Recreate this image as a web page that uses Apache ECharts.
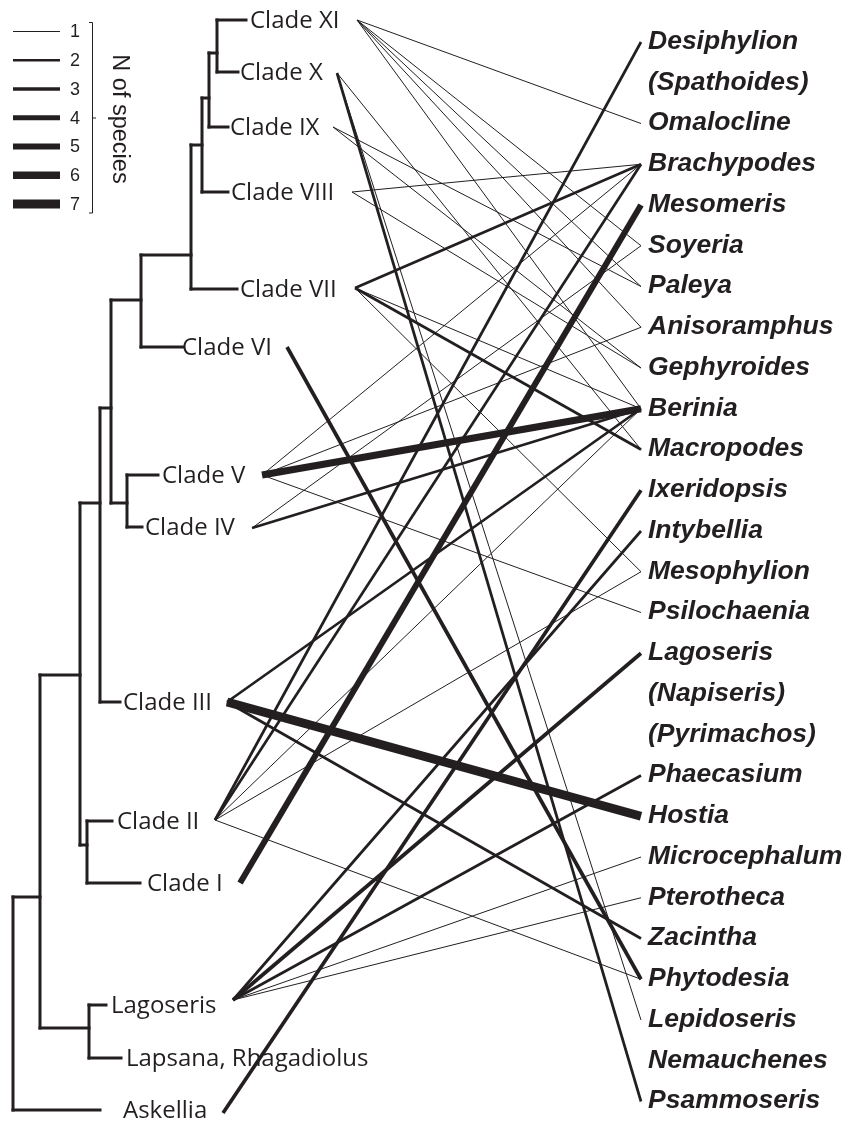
<!DOCTYPE html>
<html><head><meta charset="utf-8">
<script src="https://cdn.jsdelivr.net/npm/echarts@6/dist/echarts.min.js"></script>
<style>html,body{margin:0;padding:0;background:#fff}#c{width:862px;height:1125px}</style>
</head><body><div id="c"></div>
<script>
// ---------------- DATA ----------------
const clades = ['Clade XI','Clade X','Clade IX','Clade VIII','Clade VII','Clade VI','Clade V','Clade IV','Clade III','Clade II','Clade I','Lagoseris','Lapsana, Rhagadiolus','Askellia'];
const genera = ['Desiphylion','(Spathoides)','Omalocline','Brachypodes','Mesomeris','Soyeria','Paleya','Anisoramphus','Gephyroides','Berinia','Macropodes','Ixeridopsis','Intybellia','Mesophylion','Psilochaenia','Lagoseris','(Napiseris)','(Pyrimachos)','Phaecasium','Hostia','Microcephalum','Pterotheca','Zacintha','Phytodesia','Lepidoseris','Nemauchenes','Psammoseris'];
// tree topology (nested pairs)
const treeTopology = [[[[[[[[[['Clade XI','Clade X'],'Clade IX'],'Clade VIII'],'Clade VII'],'Clade VI'],['Clade V','Clade IV']],'Clade III'],['Clade II','Clade I']],['Lagoseris','Lapsana, Rhagadiolus']],'Askellia'];
// links: clade, genus, number of species
const linkClade = ['Clade XI','Clade XI','Clade XI','Clade XI','Clade XI',
  'Clade X','Clade X','Clade X',
  'Clade IX','Clade IX',
  'Clade VIII','Clade VIII',
  'Clade VII','Clade VII','Clade VII','Clade VII',
  'Clade VI',
  'Clade V','Clade V','Clade V','Clade V',
  'Clade IV','Clade IV',
  'Clade III','Clade III','Clade III',
  'Clade II','Clade II','Clade II','Clade II','Clade II',
  'Clade I',
  'Lagoseris','Lagoseris','Lagoseris','Lagoseris','Lagoseris',
  'Askellia'];
const linkGenus = ['Omalocline','Soyeria','Paleya','Anisoramphus','Berinia',
  'Psammoseris','Lepidoseris','Macropodes',
  'Paleya','Gephyroides',
  'Brachypodes','Gephyroides',
  'Brachypodes','Macropodes','Berinia','Mesophylion',
  'Phytodesia',
  'Berinia','Brachypodes','Anisoramphus','Psilochaenia',
  'Berinia','Soyeria',
  'Hostia','Berinia','Zacintha',
  'Desiphylion','Brachypodes','Berinia','Mesophylion','Phytodesia',
  'Mesomeris',
  'Intybellia','Lagoseris','Phaecasium','Microcephalum','Pterotheca',
  'Ixeridopsis'];
const linkSpecies = [1,1,1,1,1,
  2,1,1,
  1,1,
  1,1,
  2,2,1,1,
  3,
  6,1,1,1,
  2,1,
  7,2,2,
  2,2,1,1,1,
  5,
  2,3,2,1,1,
  3];
const legendCounts = [1,2,3,4,5,6,7];
const legendTitle = 'N of species';

// ---------------- LAYOUT / STYLE ----------------
const INK = '#231f20';
const W = 862, H = 1125;
const leafLayout = {
  'Clade XI':  {y:20,  tip:246, label:250, ax:357, ay:20},
  'Clade X':   {y:72,  tip:238, label:240, ax:337, ay:73},
  'Clade IX':  {y:127, tip:228, label:230, ax:333, ay:127},
  'Clade VIII':{y:192, tip:228, label:231, ax:352, ay:192},
  'Clade VII': {y:289, tip:237, label:240, ax:355, ay:288},
  'Clade VI':  {y:347, tip:183, label:182, ax:287, ay:347},
  'Clade V':   {y:475, tip:158, label:162, ax:262, ay:475},
  'Clade IV':  {y:527, tip:142, label:145, ax:252, ay:528},
  'Clade III': {y:702, tip:120, label:123, ax:227, ay:702},
  'Clade II':  {y:821, tip:112, label:117, ax:215, ay:820},
  'Clade I':   {y:883, tip:140, label:147, ax:240, ay:883},
  'Lagoseris': {y:1005,tip:106, label:111, ax:233, ay:1000},
  'Lapsana, Rhagadiolus': {y:1058, tip:121, label:126},
  'Askellia':  {y:1110,tip:100, label:123, ax:223, ay:1113}
};
// internal nodes in post-order: x of vertical bar, y of stem
const nodeX = [217,209,202,191,141,127,111,100,87,80,89,40,13];
const nodeY = [53,98,145,255,300,503,408,503,845,675,1028,897,1000];
const genusLinkX = 641, genusLabelX = 648;
const genusY = i => 40.5 + 40.75 * i;
const legendY = i => 31.5 + 28.75 * i;
const widthFor = n => [0, 1, 2.7, 3.7, 4.8, 6, 7.3, 8.8][n];
const cladeFont = '24px "Open Sans"';
const genusFont = 'italic bold 26.5px "Liberation Sans"';
const legendFont = '18px "Liberation Sans"';

// build tree segments (in data units = pixels of the full-canvas axes)
function buildTree() {
  const segs = [];
  let k = 0;
  function walk(node) {
    if (typeof node === 'string') {
      const L = leafLayout[node];
      return {x: L.tip, y: L.y, leaf: true};
    }
    const a = walk(node[0]), b = walk(node[1]);
    const id = k++;
    const nx = nodeX[id];
    segs.push([nx, a.y, nx, b.y]);
    segs.push([nx, a.y, a.x, a.y]);
    segs.push([nx, b.y, b.x, b.y]);
    return {x: nx, y: nodeY[id]};
  }
  walk(treeTopology);
  return segs;
}
const treeSegs = buildTree();

const chart = echarts.init(document.getElementById('c'), null, {renderer: 'canvas'});
const linkData = linkClade.map((c, i) => [clades.indexOf(c), genera.indexOf(linkGenus[i]), linkSpecies[i]]);
// draw thin first, thick on top
linkData.sort((a, b) => a[2] - b[2]);

chart.setOption({
  animation: false,
  backgroundColor: '#fff',
  grid: {left: 0, right: 0, top: 0, bottom: 0},
  xAxis: {type: 'value', min: 0, max: W, show: false},
  yAxis: {type: 'value', min: 0, max: H, inverse: true, show: false},
  series: [
    { // tree
      type: 'custom', coordinateSystem: 'cartesian2d', silent: true, clip: false,
      data: [[0, 0]],
      renderItem(params, api) {
        return {type: 'group', children: treeSegs.map(s => {
          const p1 = api.coord([s[0], s[1]]), p2 = api.coord([s[2], s[3]]);
          return {type: 'line', shape: {x1: p1[0], y1: p1[1], x2: p2[0], y2: p2[1]},
            style: {stroke: INK, lineWidth: 3, lineCap: 'square'}};
        })};
      }
    },
    { // clade labels
      type: 'custom', coordinateSystem: 'cartesian2d', silent: true, clip: false,
      data: clades.map((c, i) => [i, 0]),
      renderItem(params, api) {
        const name = clades[api.value(0)], L = leafLayout[name];
        const p = api.coord([L.label, L.y]);
        return {type: 'text', x: p[0], y: p[1] + 1,
          style: {text: name, font: cladeFont, fill: INK, align: 'left', verticalAlign: 'middle', textAlign: 'left', textVerticalAlign: 'middle'}};
      }
    },
    { // links
      type: 'custom', coordinateSystem: 'cartesian2d', silent: true, clip: false,
      data: linkData,
      renderItem(params, api) {
        const L = leafLayout[clades[api.value(0)]];
        const p1 = api.coord([L.ax, L.ay]);
        const p2 = api.coord([genusLinkX, genusY(api.value(1)) + 1.5]);
        return {type: 'line', shape: {x1: p1[0], y1: p1[1], x2: p2[0], y2: p2[1]},
          style: {stroke: INK, lineWidth: widthFor(api.value(2)), lineCap: 'butt'}};
      }
    },
    { // genus labels
      type: 'custom', coordinateSystem: 'cartesian2d', silent: true, clip: false,
      data: genera.map((g, i) => [i, 0]),
      renderItem(params, api) {
        const i = api.value(0);
        const p = api.coord([genusLabelX, genusY(i)]);
        return {type: 'text', x: p[0], y: p[1] + 1,
          style: {text: genera[i], font: genusFont, fill: INK, align: 'left', verticalAlign: 'middle', textAlign: 'left', textVerticalAlign: 'middle'}};
      }
    },
    { // size legend
      type: 'custom', coordinateSystem: 'cartesian2d', silent: true, clip: false,
      data: legendCounts.map((n, i) => [i, n]),
      renderItem(params, api) {
        const i = api.value(0), n = api.value(1);
        const a = api.coord([13, legendY(i)]), b = api.coord([60, legendY(i)]), t = api.coord([70, legendY(i)]);
        const children = [
          {type: 'line', shape: {x1: a[0], y1: a[1], x2: b[0], y2: b[1]}, style: {stroke: INK, lineWidth: widthFor(n)}},
          {type: 'text', x: t[0], y: t[1] + 1, style: {text: String(n), font: legendFont, fill: INK, align: 'left', verticalAlign: 'middle', textAlign: 'left', textVerticalAlign: 'middle'}}
        ];
        if (i === 0) {
          const top = api.coord([92.5, 22.5]), bot = api.coord([92.5, 213]), mid = api.coord([92.5, 118]);
          children.push({type: 'polyline', shape: {points: [[top[0] - 3.5, top[1]], top, bot, [bot[0] - 3.5, bot[1]]]}, style: {stroke: INK, lineWidth: 1, fill: null}});
          children.push({type: 'line', shape: {x1: mid[0], y1: mid[1], x2: mid[0] + 3.5, y2: mid[1]}, style: {stroke: INK, lineWidth: 1}});
          const tt = api.coord([119, 119]);
          children.push({type: 'text', x: tt[0], y: tt[1], rotation: -Math.PI / 2,
            style: {text: legendTitle, font: '23.5px "Liberation Sans"', fill: INK, align: 'center', verticalAlign: 'middle', textAlign: 'center', textVerticalAlign: 'middle'}});
        }
        return {type: 'group', children};
      }
    }
  ]
});
</script></body></html>
